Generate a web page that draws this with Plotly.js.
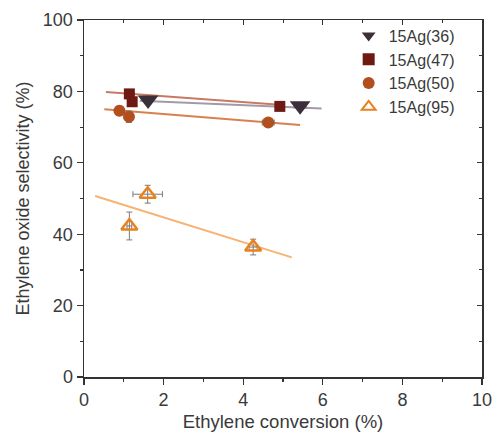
<!DOCTYPE html>
<html>
<head>
<meta charset="utf-8">
<script src="https://cdn.plot.ly/plotly-3.0.1.min.js"></script>
<style>html,body{margin:0;padding:0;background:#fff;}</style>
</head>
<body>
<div id="chart" style="width:493px;height:435px;"></div>
<script>
// Data
const s36_x = [1.61, 5.43];
const s36_y = [77.6, 76.0];
const s36_xerr = [0.08, 0.15];
const s36_yerr = [0.8, 0.6];
const s36_fitX = [1.4, 5.97];
const s36_fitY = [77.4, 75.2];

const s47_x = [1.14, 1.21, 4.92];
const s47_y = [79.3, 77.1, 75.8];
const s47_xerr = [0.05, 0.05, 0.08];
const s47_yerr = [0.6, 0.6, 0.5];
const s47_fitX = [0.55, 5.0];
const s47_fitY = [79.8, 76.2];

const s50_x = [0.89, 1.13, 4.63];
const s50_y = [74.6, 72.9, 71.3];
const s50_xerr = [0.1, 0.06, 0.15];
const s50_yerr = [1.3, 1.6, 0.6];
const s50_fitX = [0.51, 5.43];
const s50_fitY = [75.0, 70.6];

const s95_x = [1.6, 1.14, 4.25];
const s95_y = [51.2, 42.3, 36.4];
const s95_xerr = [0.37, 0.06, 0.1];
const s95_yerr = [2.5, 3.9, 2.2];
const s95_fitX = [0.28, 5.22];
const s95_fitY = [50.7, 33.5];

const names = ['15Ag(36)', '15Ag(47)', '15Ag(50)', '15Ag(95)'];
const xTicks = [0, 2, 4, 6, 8, 10];
const yTicks = [0, 20, 40, 60, 80, 100];

const errColor = '#7a7a7a';
function fit(x, y, color) {
  return {x: x, y: y, mode: 'lines', line: {color: color, width: 2}, showlegend: false, hoverinfo: 'skip'};
}
function pts(x, y, xe, ye, name, marker) {
  return {
    x: x, y: y, name: name, mode: 'markers', marker: marker,
    error_x: {type: 'data', array: xe, visible: true, color: errColor, thickness: 1, width: 3},
    error_y: {type: 'data', array: ye, visible: true, color: errColor, thickness: 1, width: 3}
  };
}

const traces = [
  fit(s36_fitX, s36_fitY, '#a39aa6'),
  fit(s47_fitX, s47_fitY, '#c77a62'),
  fit(s50_fitX, s50_fitY, '#d8804f'),
  fit(s95_fitX, s95_fitY, '#f7b274'),
  pts(s36_x, s36_y, s36_xerr, s36_yerr, names[0], {symbol: 'triangle-down', size: 18, color: '#3b3039'}),
  pts(s47_x, s47_y, s47_xerr, s47_yerr, names[1], {symbol: 'square', size: 11, color: '#6e1a12'}),
  pts(s50_x, s50_y, s50_xerr, s50_yerr, names[2], {symbol: 'circle', size: 12, color: '#b24f1f'}),
  pts(s95_x, s95_y, s95_xerr, s95_yerr, names[3], {symbol: 'triangle-up-open', size: 14, color: '#e8821e', line: {width: 2.5, color: '#e8821e'}})
];

const fontFam = 'Liberation Sans, Arial, sans-serif';
const txt = '#3a3a3a';
const layout = {
  width: 493, height: 435,
  margin: {l: 84, r: 11, t: 20, b: 58},
  paper_bgcolor: '#fff', plot_bgcolor: '#fff',
  font: {family: fontFam, color: txt, size: 16},
  showlegend: true,
  legend: {x: 0.665, y: 1.004, xanchor: 'left', yanchor: 'top', bgcolor: 'rgba(0,0,0,0)',
           font: {size: 16, color: txt}, tracegroupgap: 0, itemsizing: 'constant'},
  xaxis: {
    range: [0, 10], tickvals: xTicks, ticktext: xTicks.map(String),
    ticks: 'outside', ticklen: 6, tickwidth: 1.2, tickcolor: '#333',
    minor: {dtick: 1, ticks: 'outside', ticklen: 3, tickcolor: '#333'},
    showline: true, linecolor: '#333', linewidth: 1.5, mirror: true,
    showgrid: false, zeroline: false,
    title: {text: 'Ethylene conversion (%)', font: {size: 18.5, color: txt}, standoff: 6},
    tickfont: {size: 18, color: txt}
  },
  yaxis: {
    range: [0, 100], tickvals: yTicks, ticktext: yTicks.map(String),
    ticks: 'outside', ticklen: 6, tickwidth: 1.2, tickcolor: '#333',
    minor: {dtick: 10, ticks: 'outside', ticklen: 3, tickcolor: '#333'},
    showline: true, linecolor: '#333', linewidth: 1.5, mirror: true,
    showgrid: false, zeroline: false,
    title: {text: 'Ethylene oxide selectivity (%)', font: {size: 18, color: txt}, standoff: 8},
    tickfont: {size: 18, color: txt}
  },
  xaxis2: {
    overlaying: 'x', side: 'top', matches: 'x', range: [0, 10],
    tickvals: xTicks, showticklabels: false, ticks: 'inside', ticklen: 5, tickcolor: '#333',
    minor: {dtick: 1, ticks: 'inside', ticklen: 3, tickcolor: '#333'},
    showgrid: false, zeroline: false, showline: false
  },
  yaxis2: {
    overlaying: 'y', side: 'right', matches: 'y', range: [0, 100],
    tickvals: yTicks, showticklabels: false, ticks: 'inside', ticklen: 5, tickcolor: '#333',
    minor: {dtick: 10, ticks: 'inside', ticklen: 3, tickcolor: '#333'},
    showgrid: false, zeroline: false, showline: false
  }
};
// invisible trace that activates the mirrored inside ticks on top/right
traces.push({x: [0], y: [0], xaxis: 'x2', yaxis: 'y2', mode: 'markers', marker: {opacity: 0}, showlegend: false, hoverinfo: 'skip'});

Plotly.newPlot('chart', traces, layout, {displayModeBar: false, staticPlot: true});
</script>
</body>
</html>
